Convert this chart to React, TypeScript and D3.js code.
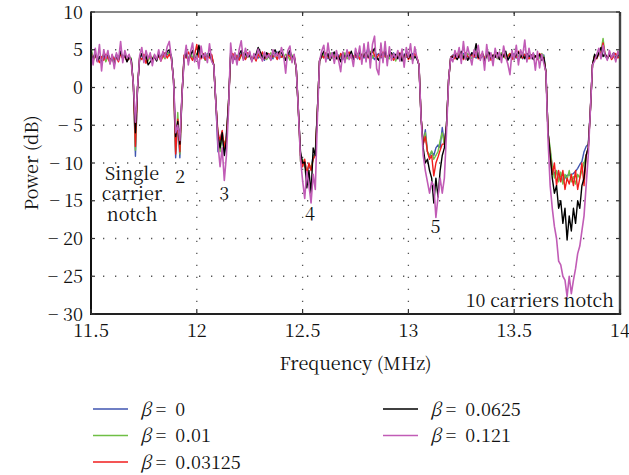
import React from "react";
import * as d3 from "d3";

// ---- Data ----
// Frequency samples: 11.50 .. 14.00 MHz every 0.01 MHz (251 points)
const freqStart = 11.5;
const freqStep = 0.01;

const betaLabels = ["0", "0.01", "0.03125", "0.0625", "0.121"];
const lineColors = ["#3f55b0", "#6fbf45", "#f01c1c", "#000000", "#c15cb6"];

const xTicks = [11.5, 12, 12.5, 13, 13.5, 14];
const yTicks = [10, 5, 0, -5, -10, -15, -20, -25, -30];

// beta = 0
const powerBeta0 = [
  4.9, 3.8, 4.4, 3.5, 4.1, 3.9, 4.3, 3.6, 4.2, 3.4, 4.0, 3.7, 4.4, 3.9, 4.7, 3.8, 4.2, 3.5, 4.0, 3.8,
  0.5, -9.1, 0.0,
  3.9, 4.3, 3.6, 4.5, 3.8, 4.0, 3.4, 4.2, 3.7, 4.4, 3.9, 4.1, 4.6, 4.3, 4.8, 4.1,
  1, -9.3, -4.5, -9.3, -1,
  4.2, 4.5, 3.7, 4.4, 4.0, 3.8, 4.3, 4.9, 3.9, 4.2, 3.6, 4.5, 4.1, 4.3,
  3, -2, -8.5, -7, -5.8, -8.8, -6, -2,
  4.0, 4.4, 3.7, 4.3, 3.9, 4.5, 4.1, 3.8, 4.2, 4.6, 3.7, 4.0, 4.4, 3.9, 4.3, 4.1, 3.6, 4.5, 4.0, 4.2,
  3.8, 4.4, 4.7, 3.9, 4.1, 4.3, 3.7, 4.2, 4.5, 3.8, 4.1,
  2.5, -3, -9, -10.2, -9.8, -11.2, -10.5, -10.8, -9, -8.8, -3, 3.5,
  4.4, 4.0, 4.5, 3.8, 4.2, 4.6, 4.0, 3.9, 4.3, 4.1, 3.7, 4.4, 4.2, 3.9, 4.6, 4.0, 4.3, 3.8, 4.5, 4.1,
  3.9, 4.4, 5.3, 4.0, 4.2, 3.7, 4.3, 4.5, 3.9, 4.1, 4.4, 3.8, 4.2, 4.0, 4.6, 3.9, 4.3, 4.1, 3.6, 4.4,
  4.0, 4.2, 3.8, 4.5, 4.1, 3.9,
  3, -4, -7.5, -5.6, -8.5, -9.2, -8.5, -9, -8, -7.6, -8, -5.3, -7.5, -5, 1, 4,
  4.3, 3.9, 4.4, 4.1, 3.7, 4.5, 4.0, 4.2, 3.8, 4.6, 4.1, 3.9, 4.3, 4.0, 4.4, 3.6, 4.2, 4.5, 4.0, 3.8,
  4.3, 4.1, 4.6, 3.9, 4.2, 4.4, 3.7, 4.0, 4.3, 4.5, 3.9, 4.1, 4.2, 3.8, 4.4, 4.0, 4.3, 3.9, 4.5, 4.1,
  3.8, 4.2, 4.0, 4.3,
  2, -6, -8.5, -10.5, -11.5, -11, -12.3, -11.5, -12.5, -12, -11.6, -11.6, -11.5, -11.4, -11.1, -10.7,
  -10.2, -9.8, -8.5, -7.8, -7.5, -3, 3,
  4.2, 4.0, 4.4, 4.9, 5.4, 4.1, 3.9, 4.3, 4.0, 4.5, 3.8, 4.2, 4.1,
];

// beta = 0.01
const powerBeta001 = [
  5.2, 3.9, 4.3, 3.6, 4.0, 3.8, 4.5, 3.4, 4.1, 3.7, 3.9, 3.5, 4.2, 3.8, 4.6, 4.0, 4.4, 3.6, 4.1, 3.9,
  0.5, -8.3, 0.0,
  4.0, 4.4, 3.8, 4.6, 3.5, 4.1, 3.9, 4.3, 3.6, 4.5, 4.0, 4.2, 3.8, 4.7, 4.4, 4.0,
  1, -8.5, -3.3, -8.8, -1,
  4.1, 4.4, 3.8, 4.6, 4.0, 3.7, 4.5, 4.2, 3.9, 4.3, 3.6, 4.4, 4.0, 4.2,
  3, -2, -6.5, -8.5, -6.5, -7.5, -6.5, -2,
  4.3, 3.9, 4.5, 4.0, 3.7, 4.2, 4.6, 3.8, 4.4, 4.1, 3.6, 4.3, 4.0, 4.5, 3.9, 4.2, 4.4, 3.7, 4.1, 4.6,
  4.0, 4.3, 3.8, 4.5, 4.1, 3.9, 4.4, 4.2, 3.6, 4.3, 4.0,
  2.5, -3, -9.8, -9.5, -10.5, -11, -10.3, -10.5, -9.5, -8.5, -3, 3.5,
  4.0, 4.4, 3.8, 4.2, 4.6, 3.9, 4.1, 4.5, 3.7, 4.3, 4.0, 4.6, 3.8, 4.2, 4.4, 3.9, 4.7, 4.1, 4.3, 3.6,
  4.5, 4.0, 4.2, 4.8, 3.9, 4.4, 4.1, 3.7, 4.3, 4.6, 4.0, 4.2, 3.8, 4.5, 4.1, 3.5, 4.3, 4.0, 4.4, 3.9,
  4.2, 4.6, 3.8, 4.1, 4.3, 4.0,
  3, -4, -7.5, -6, -8.5, -9, -8.4, -9.5, -9, -8.5, -7, -6, -7.5, -5, 1, 4,
  4.1, 4.4, 3.9, 4.6, 4.0, 4.3, 3.7, 4.5, 4.2, 3.8, 4.4, 4.1, 4.6, 3.9, 4.2, 4.0, 4.5, 3.6, 4.3, 4.1,
  4.4, 3.8, 4.2, 4.6, 4.0, 3.9, 4.3, 4.5, 4.1, 3.7, 4.4, 4.2, 3.9, 4.6, 4.0, 4.3, 3.8, 4.1, 4.4, 4.0,
  4.2, 3.9, 4.5, 4.1,
  2, -6, -8, -10.5, -12, -11, -12.5, -11.2, -12.8, -11.5, -12.2, -11, -12.5, -11.8, -12.8, -11.5,
  -12, -11, -10, -9, -8, -3, 3,
  4.3, 3.9, 4.6, 4.8, 6.5, 4.2, 3.8, 4.4, 4.0, 4.5, 3.7, 4.3, 4.1,
];

// beta = 0.03125
const powerBeta003125 = [
  4.6, 3.5, 4.2, 3.8, 3.3, 4.1, 3.6, 4.4, 3.9, 3.2, 4.3, 3.7, 4.0, 3.4, 4.5, 3.8, 4.1, 3.5, 3.9, 3.6,
  0.5, -7.8, 0.0,
  4.1, 3.7, 4.4, 3.2, 3.9, 4.3, 3.6, 4.0, 3.8, 4.2, 3.5, 4.1, 4.6, 3.9, 4.4, 3.8,
  1, -8.8, -4.2, -8.5, -1,
  4.3, 3.9, 4.7, 4.1, 3.6, 4.4, 5.7, 4.0, 3.8, 4.5, 3.7, 4.2, 3.9, 4.4,
  3, -2, -6, -7, -5.7, -8, -6.5, -2,
  4.1, 4.5, 3.8, 4.2, 3.6, 4.4, 4.0, 3.7, 4.6, 4.3, 3.9, 4.1, 3.5, 4.4, 4.0, 4.7, 3.8, 4.2, 4.5, 3.9,
  4.1, 4.3, 3.7, 4.6, 4.0, 4.2, 3.8, 4.4, 4.1, 3.6, 4.3,
  2.5, -3, -9, -10.5, -9.5, -11.5, -10, -11, -9.5, -9, -3, 3.5,
  4.3, 3.9, 4.6, 4.1, 3.7, 4.4, 4.0, 4.2, 3.6, 4.5, 4.1, 3.8, 4.3, 4.7, 3.9, 4.2, 4.0, 4.5, 3.7, 4.4,
  4.1, 4.6, 3.9, 4.3, 5.0, 4.2, 3.8, 4.4, 4.0, 4.7, 4.1, 3.9, 4.5, 4.2, 3.6, 4.3, 4.0, 4.6, 3.8, 4.1,
  4.4, 3.7, 4.2, 3.9, 4.5, 4.0,
  3, -4, -7.5, -6.5, -8.5, -9.5, -9, -11.7, -10, -9.2, -8.3, -7.5, -7.5, -5, 1, 4,
  4.2, 3.8, 4.5, 4.0, 4.3, 3.7, 4.6, 4.1, 3.9, 4.4, 4.0, 4.7, 3.8, 4.2, 4.5, 3.9, 4.1, 4.4, 3.6, 4.3,
  4.0, 4.6, 3.8, 4.2, 4.4, 3.9, 4.1, 4.5, 3.7, 4.3, 4.0, 4.8, 4.2, 3.9, 4.4, 4.1, 3.8, 4.3, 4.0, 4.2,
  3.7, 4.5, 4.1, 3.9,
  2, -6, -9, -11.5, -10, -13, -11, -12.5, -11, -13.5, -12, -12.8, -11.5, -13, -11, -13.5,
  -12, -10, -13, -9, -8, -3, 3,
  4.2, 3.8, 4.5, 4.6, 5.9, 4.3, 4.0, 4.4, 3.7, 4.1, 4.5, 3.9, 4.2,
];

// beta = 0.0625
const powerBeta00625 = [
  4.3, 3.8, 4.6, 3.5, 4.1, 3.2, 4.4, 3.9, 4.5, 3.6, 4.0, 3.0, 4.2, 3.7, 4.8, 3.9, 4.3, 3.4, 4.0, 3.7,
  0.5, -6.0, 0.0,
  3.9, 4.5, 3.6, 4.2, 3.0, 3.4, 3.8, 4.1, 3.5, 4.4, 3.9, 4.6, 4.2, 4.8, 5.0, 4.1,
  1, -6.5, -4.5, -7.5, -1,
  3.8, 4.6, 3.5, 4.3, 4.9, 3.7, 4.1, 5.6, 4.0, 4.4, 4.2, 3.9, 4.5, 3.6,
  3, -2, -6.5, -8, -6, -9, -7, -2,
  4.6, 3.7, 4.2, 3.5, 4.4, 4.9, 3.8, 4.5, 4.0, 4.3, 3.6, 4.1, 4.4, 5.3, 4.7, 4.0, 3.9, 4.6, 4.2, 3.7,
  4.5, 5.0, 4.3, 4.8, 4.6, 4.1, 3.6, 4.4, 4.9, 3.9, 4.2,
  2.5, -3, -8.5, -10, -9.9, -13.3, -11, -14, -8, -9, -3, 3.5,
  4.2, 4.8, 3.9, 4.5, 3.6, 4.3, 4.7, 3.8, 4.1, 3.4, 4.6, 3.9, 4.4, 4.0, 4.8, 3.7, 4.5, 4.1, 4.9, 3.8,
  4.3, 4.6, 4.0, 4.4, 4.7, 5.2, 3.9, 3.6, 4.5, 4.1, 4.8, 3.7, 4.3, 4.6, 4.0, 4.4, 3.8, 4.5, 3.5, 4.2,
  4.7, 3.9, 4.4, 3.6, 4.1, 3.8,
  3, -4, -8, -10, -9.5, -11, -12, -15.3, -12, -14.5, -11, -9, -8, -5, 1, 4,
  4.0, 4.5, 3.7, 4.2, 4.8, 3.9, 4.4, 3.6, 4.1, 4.6, 4.3, 5.8, 4.0, 3.8, 4.5, 3.5, 4.2, 4.7, 3.9, 4.3,
  4.0, 4.6, 3.7, 4.4, 4.1, 4.8, 3.6, 4.2, 4.5, 3.9, 4.3, 4.7, 4.0, 4.4, 3.8, 4.5, 4.1, 4.3, 3.7, 4.2,
  3.9, 4.4, 3.6, 4.0,
  2, -6, -9, -12, -14, -13, -16, -15, -18, -16, -20.2, -17, -19, -16, -18, -15,
  -16, -13, -12, -9, -8, -3, 3,
  4.4, 3.9, 4.6, 5.3, 4.1, 4.5, 3.8, 4.3, 4.0, 4.6, 3.7, 4.4, 4.1,
];

// beta = 0.121
const powerBeta0121 = [
  4.8, 3.0, 5.2, 3.4, 5.7, 2.2, 5.0, 3.8, 4.9, 3.1, 4.4, 2.5, 4.6, 3.6, 6.1, 3.3, 4.9, 3.9, 4.4, 3.4,
  0.5, -4.6, 0.0,
  4.2, 5.3, 3.3, 4.9, 3.8, 4.6, 2.9, 4.4, 3.7, 5.0, 3.5, 4.8, 4.0, 5.4, 6.1, 3.9,
  1, -6.0, -5.0, -7.0, -1,
  3.6, 5.6, 3.0, 4.7, 5.9, 3.4, 4.2, 2.5, 5.5, 3.9, 4.6, 3.3, 5.8, 3.5,
  3, -2, -7.5, -10.5, -8, -12.3, -9, -3,
  5.9, 3.2, 4.6, 3.0, 5.0, 6.2, 3.6, 5.2, 4.0, 4.8, 3.4, 4.5, 3.8, 5.1, 4.2, 3.5, 4.7, 3.9, 4.4, 3.6,
  5.0, 4.1, 4.6, 3.8, 5.3, 4.3, 1.9, 4.9, 5.5, 3.3, 4.4,
  2.5, -3, -9.5, -12.3, -14.7, -11.1, -13, -15.3, -11.5, -13.5, -4, 3.5,
  4.8, 5.6, 3.4, 5.9, 3.8, 4.6, 3.2, 4.9, 3.6, 2.1, 4.7, 3.3, 5.0, 3.7, 4.4, 2.8, 5.2, 3.9, 5.5, 3.1,
  5.8, 3.4, 6.0, 2.6, 5.7, 6.8, 2.5, 1.7, 5.9, 3.3, 6.1, 2.9, 5.4, 3.6, 4.5, 3.8, 4.9, 3.5, 5.1, 2.7,
  5.3, 4.0, 5.8, 3.2, 5.4, 4.0,
  3, -4, -9, -11, -12.5, -14, -12.5, -13, -17.2, -14.5, -12, -14, -12, -6, 1, 4,
  3.4, 4.9, 4.0, 5.3, 3.2, 6.1, 3.7, 5.4, 4.2, 3.0, 5.0, 4.1, 5.6, 3.6, 4.8, 2.3, 5.7, 3.5, 4.6, 2.9,
  5.2, 3.9, 4.7, 3.3, 5.5, 4.0, 3.1, 1.7, 4.9, 3.7, 5.6, 3.0, 5.0, 4.2, 6.3, 3.4, 5.2, 3.8, 4.6, 2.3,
  4.8, 2.6, 4.4, 3.2,
  2, -7, -13, -16, -18.4, -20, -23, -23.5, -25, -25.5, -27.7, -25, -27.3, -25.5, -24, -22,
  -21, -19, -17, -13, -9, -3, 3,
  3.5, 4.4, 5.2, 3.8, 5.6, 4.3, 3.6, 4.9, 3.9, 4.6, 3.4, 4.8, 4.0,
];

const allSeries = [powerBeta0, powerBeta001, powerBeta003125, powerBeta00625, powerBeta0121];

// Notch annotations (anchored in data coordinates)
const annotations = [
  { lines: ["Single", "carrier", "notch"], f: 11.694, v: -12.25, anchor: "middle" },
  { lines: ["2"], f: 11.921, v: -12.65, anchor: "middle" },
  { lines: ["3"], f: 12.129, v: -14.9, anchor: "middle" },
  { lines: ["4"], f: 12.535, v: -17.55, anchor: "middle" },
  { lines: ["5"], f: 13.128, v: -19.3, anchor: "middle" },
  { lines: ["10 carriers notch"], f: 13.972, v: -29.07, anchor: "end" },
];

const FONT = '"Noto Serif CJK SC"';

export default function App() {
  const W = 629;
  const H = 475;
  const left = 91;
  const right = 620;
  const top = 12;
  const bottom = 314;

  const x = d3.scaleLinear().domain([11.5, 14]).range([left, right]);
  const y = d3.scaleLinear().domain([-30, 10]).range([bottom, top]);

  const line = d3
    .line<number>()
    .x((_, i) => x(freqStart + i * freqStep))
    .y((d) => y(d));

  const fmtY = (v: number) => (v < 0 ? "\u2212 " + Math.abs(v) : String(v));

  const legendRows = [
    { col: 0, row: 0 },
    { col: 0, row: 1 },
    { col: 0, row: 2 },
    { col: 1, row: 0 },
    { col: 1, row: 1 },
  ];
  const legendColX = [93, 383];
  const legendRowY = [409, 435.5, 462];
  const txt = { fontFamily: FONT } as React.CSSProperties;

  return (
    <svg
      width={W}
      height={H}
      viewBox={`0 0 ${W} ${H}`}
      style={{ position: "absolute", left: 0, top: 0, background: "#fff" }}
    >
      <rect x={0} y={0} width={W} height={H} fill="#fff" />
      {/* grid */}
      <g stroke="#555" strokeWidth={1.3} strokeDasharray="1.3 10.7">
        {xTicks.slice(1, -1).map((t) => (
          <line key={"gx" + t} x1={x(t)} x2={x(t)} y1={bottom} y2={top} />
        ))}
        {yTicks.slice(1, -1).map((t) => (
          <line key={"gy" + t} x1={left} x2={right} y1={y(t)} y2={y(t)} />
        ))}
      </g>

      {/* series */}
      <g fill="none" strokeLinejoin="round">
        {allSeries.map((s, k) => (
          <path
            key={k}
            d={line(s) || ""}
            stroke={lineColors[k]}
            strokeWidth={k === 4 ? 1.6 : 1.4}
          />
        ))}
      </g>

      {/* frame */}
      <line x1={left} x2={right} y1={top} y2={top} stroke="#111" strokeWidth={1.2} />
      <line x1={right} x2={right} y1={top} y2={bottom} stroke="#444" strokeWidth={2.4} />
      <line x1={left} x2={left} y1={top - 0.6} y2={bottom + 1} stroke="#111" strokeWidth={2} />
      <line x1={left} x2={right + 1.2} y1={bottom} y2={bottom} stroke="#222" strokeWidth={2} />

      {/* ticks */}
      <g stroke="#333" strokeWidth={1.2}>
        {xTicks.map((t) => (
          <g key={"tx" + t}>
            <line x1={x(t)} x2={x(t)} y1={bottom} y2={bottom - 5} />
            <line x1={x(t)} x2={x(t)} y1={top} y2={top + 4} />
          </g>
        ))}
        {yTicks.map((t) => (
          <g key={"ty" + t}>
            <line x1={left} x2={left + 4} y1={y(t)} y2={y(t)} />
            <line x1={right} x2={right - 4} y1={y(t)} y2={y(t)} />
          </g>
        ))}
      </g>

      {/* tick labels */}
      <g fontSize={18} fill="#111">
        {xTicks.map((t) => (
          <text key={"lx" + t} style={txt} x={x(t)} y={bottom + 23} textAnchor="middle">
            {String(t)}
          </text>
        ))}
        {yTicks.map((t) => (
          <text key={"ly" + t} style={txt} x={left - 8} y={y(t) + 6.5} textAnchor="end">
            {fmtY(t)}
          </text>
        ))}
      </g>

      {/* axis titles */}
      <text style={txt} x={(left + right) / 2} y={370} textAnchor="middle" fontSize={18} fill="#111">
        Frequency (MHz)
      </text>
      <text
        style={txt}
        transform={`translate(38, ${(top + bottom) / 2}) rotate(-90)`}
        textAnchor="middle"
        fontSize={18}
        fill="#111"
      >
        Power (dB)
      </text>

      {/* annotations: one text element per line */}
      <g fontSize={18} fill="#111">
        {annotations.map((a, k) =>
          a.lines.map((ln, j) => (
            <text
              key={"an" + k + "_" + j}
              style={txt}
              x={x(a.f)}
              y={y(a.v) + j * 20.5}
              textAnchor={a.anchor as any}
            >
              {ln}
            </text>
          ))
        )}
      </g>

      {/* legend */}
      <g fontSize={18} fill="#111">
        {legendRows.map((r, k) => {
          const lx = legendColX[r.col];
          const ly = legendRowY[r.row];
          return (
            <g key={"lg" + k}>
              <line x1={lx} x2={lx + 35} y1={ly} y2={ly} stroke={lineColors[k]} strokeWidth={1.5} />
              <text style={{ ...txt, whiteSpace: "pre" }} x={lx + 47} y={ly + 6.5}>
                <tspan fontStyle="italic">β</tspan>
                <tspan>{" =  " + betaLabels[k]}</tspan>
              </text>
            </g>
          );
        })}
      </g>
    </svg>
  );
}
